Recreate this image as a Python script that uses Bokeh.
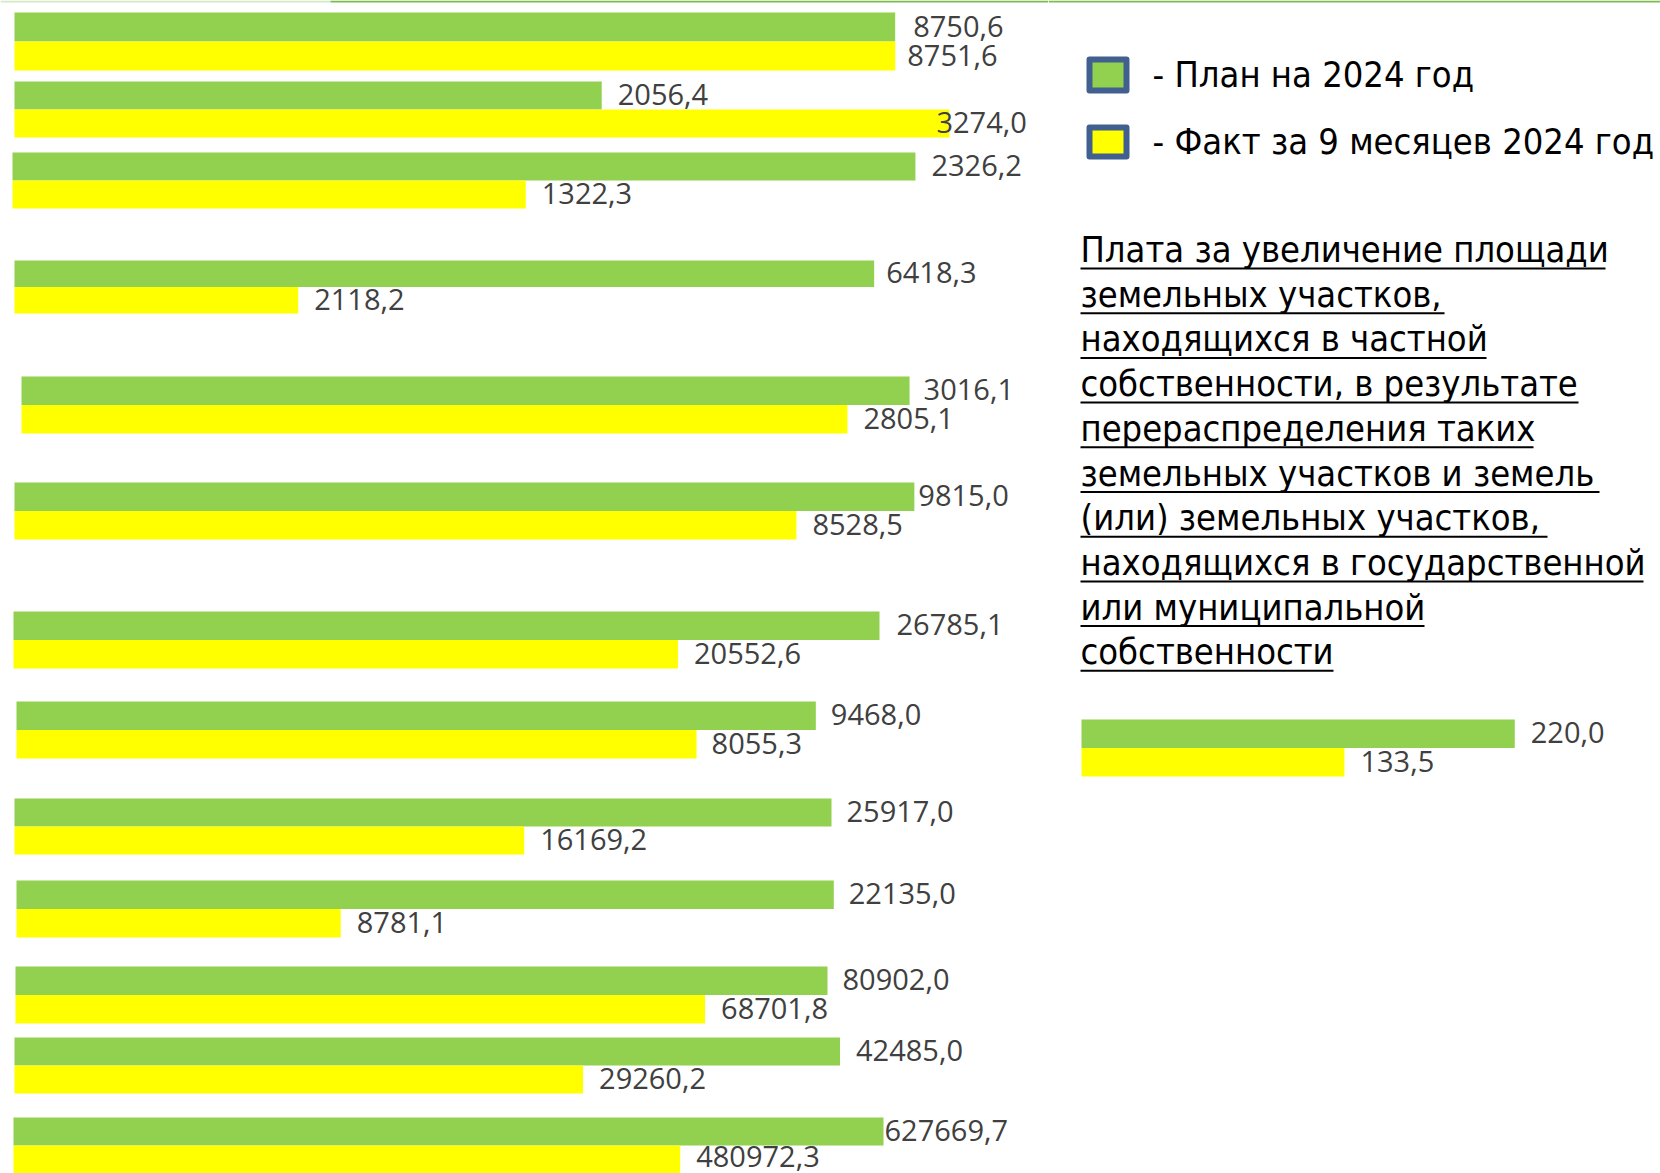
from bokeh.plotting import figure
from bokeh.models import Range1d, ColumnDataSource, BoxAnnotation
from bokeh.layouts import column, row
from bokeh.embed import file_html
from bokeh.resources import INLINE
from bokeh.core.properties import value

# ---------------- data ----------------
plan = [8750.6, 2056.4, 2326.2, 6418.3, 3016.1, 9815.0, 26785.1, 9468.0,
        25917.0, 22135.0, 80902.0, 42485.0, 627669.7]
fact = [8751.6, 3274.0, 1322.3, 2118.2, 2805.1, 8528.5, 20552.6, 8055.3,
        16169.2, 8781.1, 68701.8, 29260.2, 480972.3]
# each pair was a separate small chart with its own axis maximum
axis_max = [10274, 3621, 2669, 7720, 3488, 11278, 32012, 12224,
            32801, 27950, 102921, 53215, 746713]

extra_plan = [220.0]
extra_fact = [133.5]
extra_axis_max = [294]

series_names = ["- План на 2024 год", "- Факт за 9 месяцев 2024 год"]
title_lines = [
    "Плата за увеличение площади",
    "земельных участков,",
    "находящихся в частной",
    "собственности, в результате",
    "перераспределения таких",
    "земельных участков и земель",
    "(или) земельных участков,",
    "находящихся в государственной",
    "или муниципальной",
    "собственности",
]

# ---------------- style / layout ----------------
PLAN_C = "#92D050"
FACT_C = "#FFFF00"
LABEL_C = "#404040"
TOPLINE_C = "#7CBB4E"
TOPLINE_PALE = "#D3EAC2"
LEFT_W = 1048
RIGHT_W = 612
TOTAL_H = 1173
LABEL_FONT = value("Open Sans")
LABEL_SIZE = "29px"
TXT_FONT = value("DejaVu Sans Condensed")

group_top = [12, 81, 152, 260, 376, 482, 611, 701, 798, 880, 966, 1037, 1117]
pair_h = [58, 56, 56, 53, 57, 57, 57, 57, 56, 57, 57, 56, 56]
bar_start = [14, 14, 12, 14, 21, 14, 13, 16, 14, 16, 15, 14, 13]
# horizontal offset of each value label from its bar end (px)
dx_plan = [18, 16, 16, 12, 14, 4, 17, 15, 15, 15, 15, 16, 1]
dx_fact = [12, -13, 16, 16, 16, 16, 16, 15, 16, 16, 16, 16, 16]


def fmt(v):
    return f"{v:.1f}".replace(".", ",")


def pair_chart(pv, fv, xmax, width, height, start_px, top_px, pair_px,
               dxp=16, dxf=16, dyf=-1):
    u = pair_px / 2.0                 # px per category unit (vertical)
    bottom_px = height - top_px - pair_px
    x_lo = -start_px * xmax / (width - start_px)   # bar origin sits start_px in
    y_hi = 1.5 + top_px / u
    p = figure(width=width, height=height, output_backend="svg",
               toolbar_location=None, x_axis_location=None, y_axis_location=None,
               x_range=Range1d(x_lo, xmax),
               y_range=Range1d(-0.5 - bottom_px / u, y_hi),
               min_border=0)
    p.outline_line_color = None
    p.grid.visible = False
    p.background_fill_color = "white"
    p.border_fill_color = "white"
    # y = 1 -> plan, y = 0 -> fact
    src = ColumnDataSource(dict(cat=[1, 0], val=[pv, fv],
                                color=[PLAN_C, FACT_C]))
    p.hbar(y="cat", right="val", height=1.0, left=0, color="color",
           line_color=None, source=src)
    p.text(x=[pv], y=[1], text=[fmt(pv)], x_offset=dxp, y_offset=-1,
           text_baseline="middle", text_align="left", text_font=LABEL_FONT,
           text_font_size=LABEL_SIZE, text_color=LABEL_C)
    p.text(x=[fv], y=[0], text=[fmt(fv)], x_offset=dxf, y_offset=dyf,
           text_baseline="middle", text_align="left", text_font=LABEL_FONT,
           text_font_size=LABEL_SIZE, text_color=LABEL_C)
    return p


# figure boundaries halfway between neighbouring pairs
n = len(plan)
bounds = [0]
for i in range(n - 1):
    bounds.append((group_top[i] + pair_h[i] + group_top[i + 1]) // 2)
bounds.append(TOTAL_H)

left_figs = []
for i in range(n):
    h = bounds[i + 1] - bounds[i]
    left_figs.append(pair_chart(plan[i], fact[i], axis_max[i], LEFT_W, h,
                                bar_start[i], group_top[i] - bounds[i],
                                pair_h[i], dx_plan[i], dx_fact[i],
                                -3 if i == n - 1 else -1))

# thin green rule along the top edge of the slide
f0 = left_figs[0]
f0_xlo, f0_xhi = f0.x_range.start, f0.x_range.end
f0_yhi = f0.y_range.end
px_x = (f0_xhi - f0_xlo) / LEFT_W
px_y = 1.0 / (pair_h[0] / 2.0)
for lft, rgt, col in [(0, 330, TOPLINE_PALE), (330, LEFT_W, TOPLINE_C)]:
    f0.add_layout(BoxAnnotation(left=f0_xlo + lft * px_x, right=f0_xlo + rgt * px_x,
                                top=f0_yhi, bottom=f0_yhi - 2 * px_y,
                                fill_color=col, fill_alpha=1, line_color=None))
left_col = column(*left_figs, spacing=0)

# ---------------- right side: legend + title ----------------
INFO_H = 710
info = figure(width=RIGHT_W, height=INFO_H, output_backend="svg",
              toolbar_location=None, x_axis_location=None, y_axis_location=None,
              x_range=Range1d(0, RIGHT_W), y_range=Range1d(INFO_H, 0),
              min_border=0)
info.outline_line_color = None
info.grid.visible = False
info.background_fill_color = "white"
info.border_fill_color = "white"
info.add_layout(BoxAnnotation(left=0, right=RIGHT_W, top=0, bottom=2,
                              fill_color=TOPLINE_C, fill_alpha=1,
                              line_color=None))

# legend swatches
info.quad(left=[41, 41], right=[78, 78], top=[59, 127], bottom=[90, 156],
          fill_color=[PLAN_C, FACT_C], line_color="#41608F", line_width=6,
          line_join="round")
info.text(x=[104, 104], y=[74, 141], text=series_names, text_baseline="middle",
          text_font=TXT_FONT, text_font_size="36px", text_color="black")

# underlined title
mid0 = 249
step = 44.7
ys = [mid0 + k * step for k in range(len(title_lines))]
info.text(x=[32] * len(title_lines), y=ys, text=title_lines,
          text_baseline="middle", text_font=TXT_FONT,
          text_font_size="36px", text_color="black")
ul_end = [557, 396, 438, 530, 485, 551, 499, 595, 376, 285]
info.segment(x0=[32] * len(title_lines), x1=ul_end,
             y0=[y + 19 for y in ys], y1=[y + 19 for y in ys],
             line_color="black", line_width=2)

extra = pair_chart(extra_plan[0], extra_fact[0], extra_axis_max[0], RIGHT_W,
                   76, 33, 9, 57)
right_col = column(info, extra, spacing=0)

layout = row(left_col, right_col, spacing=0)

open("out.html", "w").write(file_html(layout, INLINE))
